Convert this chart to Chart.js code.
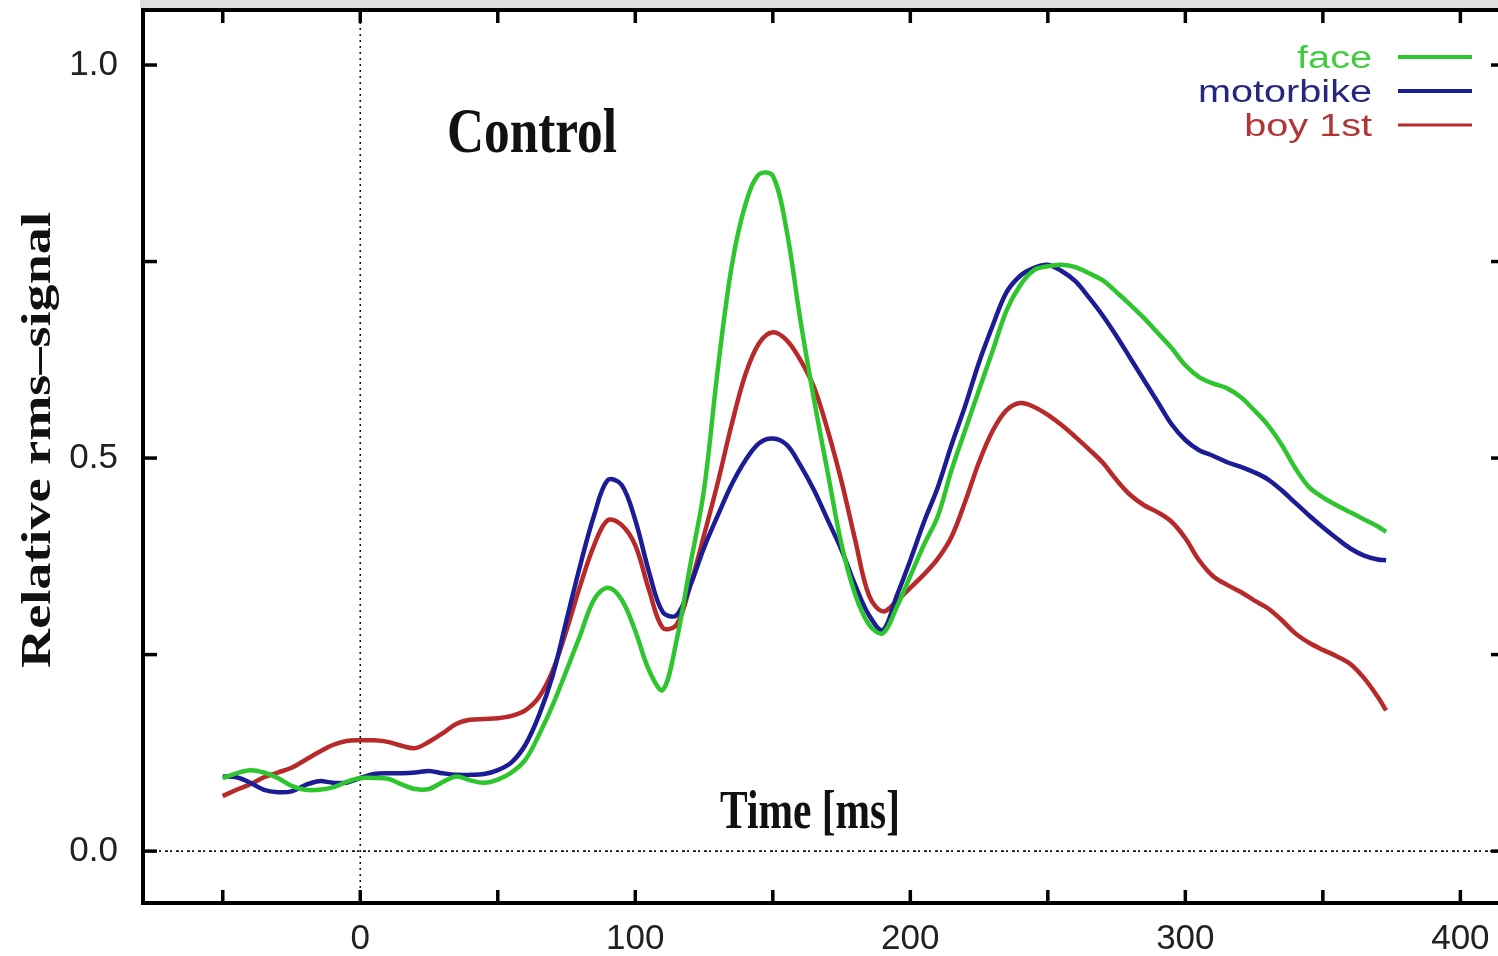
<!DOCTYPE html>
<html>
<head>
<meta charset="utf-8">
<script src="https://cdn.jsdelivr.net/npm/chart.js@4.4.1/dist/chart.umd.min.js"></script>
<style>
html, body { margin: 0; padding: 0; background: #fff; overflow: hidden; }
</style>
</head>
<body>
<canvas id="c" width="1510" height="956"></canvas>
<script>
// time axis (ms) and relative rms signal per condition
var times = [-50,-45,-40,-35,-30,-25,-20,-15,-10,-5,
  0,5,10,15,20,25,30,35,40,45,
  50,55,60,65,70,75,80,85,90,95,
  100,105,110,115,120,125,130,135,140,145,
  150,155,160,165,170,175,180,185,190,195,
  200,205,210,215,220,225,230,235,240,245,
  250,255,260,265,270,275,280,285,290,295,
  300,305,310,315,320,325,330,335,340,345,
  350,355,360,365,370,373];

var face = [0.093,0.099,0.103,0.100,0.093,0.083,0.078,0.078,0.081,0.088,
  0.093,0.093,0.092,0.085,0.079,0.079,0.088,0.095,0.090,0.087,
  0.091,0.100,0.116,0.148,0.186,0.230,0.275,0.320,0.335,0.320,
  0.280,0.230,0.205,0.268,0.364,0.460,0.613,0.743,0.822,0.861,
  0.859,0.790,0.676,0.574,0.481,0.390,0.326,0.288,0.277,0.310,
  0.350,0.390,0.426,0.485,0.536,0.587,0.637,0.688,0.720,0.739,
  0.744,0.746,0.743,0.735,0.726,0.711,0.695,0.678,0.659,0.640,
  0.618,0.603,0.595,0.589,0.578,0.561,0.542,0.517,0.487,0.463,
  0.450,0.440,0.431,0.422,0.413,0.406];

var motorbike = [0.095,0.094,0.087,0.078,0.075,0.076,0.084,0.089,0.087,0.087,
  0.093,0.098,0.099,0.099,0.100,0.102,0.099,0.097,0.097,0.098,
  0.103,0.113,0.135,0.173,0.224,0.294,0.364,0.427,0.472,0.466,
  0.421,0.355,0.304,0.300,0.338,0.386,0.427,0.466,0.497,0.519,
  0.525,0.517,0.491,0.459,0.421,0.383,0.338,0.300,0.281,0.324,
  0.370,0.419,0.463,0.517,0.567,0.622,0.669,0.711,0.732,0.742,
  0.746,0.738,0.725,0.704,0.681,0.655,0.627,0.599,0.571,0.543,
  0.523,0.510,0.503,0.495,0.489,0.482,0.473,0.459,0.443,0.427,
  0.412,0.398,0.385,0.376,0.371,0.370];

var boy1st = [0.070,0.078,0.085,0.094,0.100,0.106,0.116,0.126,0.135,0.140,
  0.141,0.141,0.139,0.134,0.131,0.139,0.150,0.162,0.167,0.168,
  0.169,0.172,0.179,0.196,0.230,0.281,0.338,0.389,0.421,0.415,
  0.389,0.332,0.284,0.288,0.338,0.402,0.469,0.542,0.606,0.646,
  0.660,0.650,0.625,0.590,0.535,0.470,0.395,0.325,0.305,0.318,
  0.335,0.352,0.372,0.400,0.445,0.495,0.535,0.561,0.570,0.565,
  0.555,0.542,0.527,0.511,0.494,0.472,0.453,0.440,0.431,0.419,
  0.398,0.370,0.350,0.339,0.330,0.319,0.309,0.294,0.277,0.265,
  0.256,0.248,0.238,0.220,0.196,0.179];

var seriesNames = ['face', 'motorbike', 'boy 1st'];
var seriesColors = ['#2ec52e', '#1c1c94', '#b82a2a'];
var legendTextColors = ['#3fcc3f', '#26267e', '#b03636'];

var xLabels = [0, 100, 200, 300, 400];
var xMarks = [-50, 0, 50, 100, 150, 200, 250, 300, 350, 400];
var yLabels = [0, 0.5, 1.0];
var yMarks = [0, 0.25, 0.5, 0.75, 1.0];

function pts(arr) {
  return times.map(function (t, i) { return { x: t, y: arr[i] }; });
}

function fitText(ctx, text, font, x, y, width, align, rotate) {
  ctx.save();
  ctx.font = font;
  var w = ctx.measureText(text).width;
  ctx.translate(x, y);
  if (rotate) ctx.rotate(-Math.PI / 2);
  ctx.scale(width / w, 1);
  ctx.textAlign = align;
  ctx.textBaseline = 'alphabetic';
  ctx.fillText(text, 0, 0);
  ctx.restore();
}

// no automatic label padding, the frame must sit at fixed pixels
function noPad(s) {
  s.paddingTop = 0; s.paddingBottom = 0; s.paddingLeft = 0; s.paddingRight = 0;
}

var decor = {
  id: 'decor',
  beforeDraw: function (chart) {
    var ctx = chart.ctx;
    ctx.save();
    ctx.fillStyle = '#fff';
    ctx.fillRect(0, 0, chart.width, chart.height);
    ctx.fillStyle = '#dedede';
    ctx.fillRect(140, 0, chart.width - 140, 8);
    ctx.restore();
  },
  beforeDatasetsDraw: function (chart) {
    var ctx = chart.ctx, a = chart.chartArea;
    var xs = chart.scales.x, ys = chart.scales.y;
    ctx.save();
    ctx.strokeStyle = '#111';
    ctx.lineWidth = 1.6;
    ctx.setLineDash([2, 4]);
    var x0 = xs.getPixelForValue(0);
    ctx.beginPath(); ctx.moveTo(x0, a.top); ctx.lineTo(x0, a.bottom); ctx.stroke();
    ctx.setLineDash([3, 2, 2, 4]);
    var y0 = ys.getPixelForValue(0);
    ctx.beginPath(); ctx.moveTo(a.left, y0); ctx.lineTo(a.right, y0); ctx.stroke();
    ctx.restore();
  },
  afterDraw: function (chart) {
    var ctx = chart.ctx, a = chart.chartArea;
    var xs = chart.scales.x, ys = chart.scales.y;
    ctx.save();
    // frame
    ctx.strokeStyle = '#000';
    ctx.lineWidth = 4;
    ctx.beginPath();
    ctx.moveTo(a.right + 5, a.top); ctx.lineTo(a.left, a.top);
    ctx.lineTo(a.left, a.bottom); ctx.lineTo(a.right + 5, a.bottom);
    ctx.stroke();
    // inward ticks
    ctx.lineWidth = 3.5;
    xMarks.forEach(function (v) {
      var px = xs.getPixelForValue(v);
      ctx.beginPath(); ctx.moveTo(px, a.bottom); ctx.lineTo(px, a.bottom - 13); ctx.stroke();
      ctx.beginPath(); ctx.moveTo(px, a.top); ctx.lineTo(px, a.top + 13); ctx.stroke();
    });
    yMarks.forEach(function (v) {
      var py = ys.getPixelForValue(v);
      ctx.beginPath(); ctx.moveTo(a.left, py); ctx.lineTo(a.left + 14, py); ctx.stroke();
      ctx.beginPath(); ctx.moveTo(a.right, py); ctx.lineTo(a.right - 12, py); ctx.stroke();
    });
    // titles
    ctx.fillStyle = '#111';
    fitText(ctx, 'Control', 'bold 63px "Liberation Serif"', 532, 152, 170, 'center');
    fitText(ctx, 'Time [ms]', 'bold 54px "Liberation Serif"', 810, 828, 180, 'center');
    fitText(ctx, 'Relative rms\u2013signal', 'bold 42px "Liberation Serif"', 50, 440, 456, 'center', true);
    // legend: text right aligned, sample line to its right
    var legY = [57, 91, 125];
    ctx.font = '31px "Liberation Sans"';
    var sx = 174 / ctx.measureText('motorbike').width;
    seriesNames.forEach(function (name, i) {
      ctx.save();
      ctx.fillStyle = legendTextColors[i];
      ctx.font = '31px "Liberation Sans"';
      ctx.translate(1372, legY[i] + 11);
      ctx.scale(sx, 1);
      ctx.textAlign = 'right';
      ctx.textBaseline = 'alphabetic';
      ctx.fillText(name, 0, 0);
      ctx.restore();
      ctx.strokeStyle = seriesColors[i];
      ctx.lineWidth = i === 2 ? 3 : 4;
      ctx.beginPath(); ctx.moveTo(1398, legY[i]); ctx.lineTo(1472, legY[i]); ctx.stroke();
    });
    ctx.restore();
  }
};

var ctx = document.getElementById('c').getContext('2d');
var datasets = [face, motorbike, boy1st].map(function (arr, i) {
  return {
    label: seriesNames[i],
    data: pts(arr),
    borderColor: seriesColors[i],
    borderWidth: 4.5,
    pointRadius: 0,
    tension: 0.35,
    fill: false
  };
});

new Chart(ctx, {
  type: 'line',
  data: { datasets: datasets },
  options: {
    responsive: false,
    animation: false,
    layout: { autoPadding: false, padding: { top: 10, right: 7, left: 0, bottom: 0 } },
    plugins: { legend: { display: false }, tooltip: { enabled: false } },
    scales: {
      x: {
        type: 'linear',
        min: -79,
        max: 415.5,
        afterBuildTicks: function (s) { s.ticks = xLabels.map(function (v) { return { value: v }; }); },
        afterFit: function (s) { s.height = 53; noPad(s); },
        grid: { display: false, drawTicks: false },
        border: { display: false },
        ticks: {
          autoSkip: false, maxRotation: 0, padding: 15,
          color: '#222',
          font: { family: '"Liberation Sans"', size: 35 },
          callback: function (v) { return String(v); }
        }
      },
      y: {
        min: -0.066,
        max: 1.07,
        afterBuildTicks: function (s) { s.ticks = yLabels.map(function (v) { return { value: v }; }); },
        afterFit: function (s) { s.width = 143; noPad(s); },
        grid: { display: false, drawTicks: false },
        border: { display: false },
        ticks: {
          padding: 25,
          color: '#222',
          font: { family: '"Liberation Sans"', size: 35 },
          callback: function (v) { return v.toFixed(1); }
        }
      }
    }
  },
  plugins: [decor]
});
</script>
</body>
</html>
